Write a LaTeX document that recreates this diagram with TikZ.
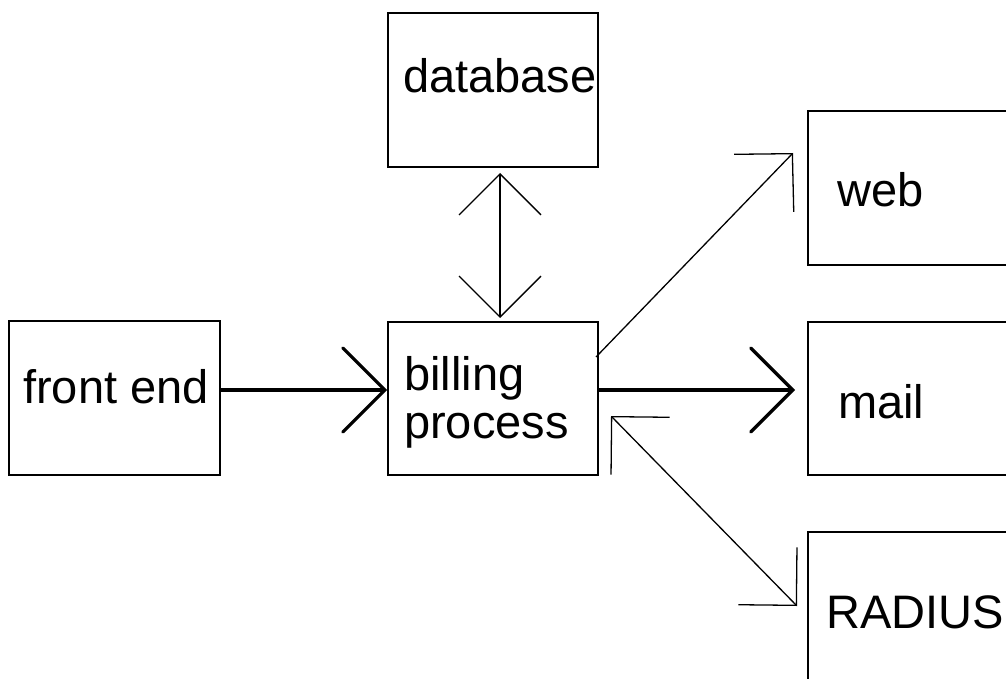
\documentclass[tikz,border=0pt]{standalone}
\usepackage{fontspec}
\setmainfont{Liberation Sans}
\usetikzlibrary{arrows.meta}
\tikzset{
  box/.style={draw=black, line width=1.8pt, rectangle, inner sep=0pt},
  lbl/.style={anchor=base west, inner sep=0pt, font=\fontsize{47}{48}\selectfont, align=left},
  thickarrow/.style={line width=3.2pt, -{Straight Barb[length=42pt, width=84pt, line cap=round]}},
  thinarrow/.style={line width=1.3pt, -{Straight Barb[length=41pt, width=83pt]}},
  thinboth/.style={line width=1.3pt, {Straight Barb[length=41pt, width=82pt]}-{Straight Barb[length=41pt, width=82pt]}}
}
\begin{document}
\begin{tikzpicture}[x=1pt,y=-1pt]
\useasboundingbox (0,0) rectangle (1006,679);
\fill[white] (0,0) rectangle (1006,679);
\clip (0,0) rectangle (1006,679);
% boxes
\node[box, minimum width=211pt, minimum height=154pt] (fe) at (114.5,398) {};
\node[box, minimum width=210pt, minimum height=153pt] (bill) at (493,398.5) {};
\node[box, minimum width=210pt, minimum height=154pt] (db) at (493,90) {};
\node[box, minimum width=222pt, minimum height=154pt] (web) at (919,188) {};
\node[box, minimum width=222pt, minimum height=153pt] (mail) at (919,398.5) {};
\node[box, minimum width=222pt, minimum height=160pt] (rad) at (919,612) {};
% labels
\node[lbl] (tfe) at (23,403) {front end};
\node[lbl] (tdb) at (403,93) {database};
\node[lbl] (tbill) at (404,438) {billing\\process};
\node[lbl] (tweb) at (837,207) {web};
\node[lbl] (tmail) at (838,418) {mail};
\node[lbl] (trad) at (826,628) {RADIUS};
% connector end points
\coordinate (dbtip) at (500,173);
\coordinate (billtip) at (500,318);
\coordinate (ws) at (596,357);
\coordinate (we) at (793,153);
\coordinate (rs) at (611,416);
\coordinate (re) at (797,606);
\coordinate (mailtip) at (795,390);
% connectors
\draw[thickarrow] (fe.east |- 0,390) -- (bill.west |- 0,390);
\draw[thickarrow] (bill.east |- 0,390) -- (mailtip);
\draw[thinboth] (dbtip) -- (billtip);
\draw[thinarrow] (ws) -- (we);
\draw[thinboth] (rs) -- (re);
\end{tikzpicture}
\end{document}
